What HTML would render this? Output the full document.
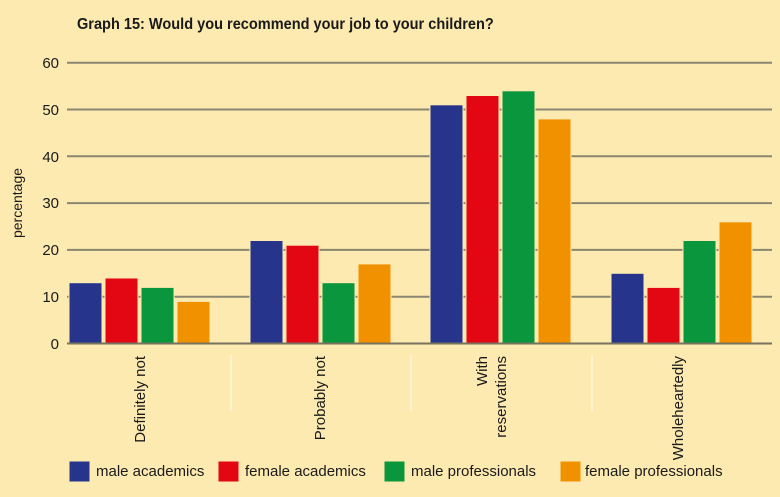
<!DOCTYPE html><html><head><style>body{margin:0;background:#fdeab0}svg{display:block}text{font-family:"Liberation Sans",sans-serif;fill:#1a1a1a}</style></head><body>
<svg width="780" height="497" xmlns="http://www.w3.org/2000/svg">
<rect width="780" height="497" fill="#fdeab0"/>
<text x="77" y="29" font-size="16" font-weight="bold" transform="translate(77,0) scale(0.91,1) translate(-77,0)">Graph 15: Would you recommend your job to your children?</text>
<g stroke="#8a8670" stroke-width="2">
<line x1="67" x2="772" y1="62.7" y2="62.7"/><line x1="67" x2="772" y1="109.5" y2="109.5"/><line x1="67" x2="772" y1="156.3" y2="156.3"/><line x1="67" x2="772" y1="203.1" y2="203.1"/><line x1="67" x2="772" y1="249.9" y2="249.9"/><line x1="67" x2="772" y1="296.7" y2="296.7"/>
</g>
<g font-size="15" text-anchor="end"><text x="59" y="68">60</text><text x="59" y="115">50</text><text x="59" y="162">40</text><text x="59" y="208">30</text><text x="59" y="255">20</text><text x="59" y="302">10</text><text x="59" y="349">0</text></g>
<text font-size="14" transform="translate(22,203) rotate(-90)" text-anchor="middle">percentage</text>
<g stroke="#fdeab0" stroke-width="1">
<rect x="69" y="282.7" width="33" height="60.8" fill="#27348b"/><rect x="105" y="278" width="33" height="65.5" fill="#e30613"/><rect x="141" y="287.4" width="33" height="56.1" fill="#09963d"/><rect x="177" y="301.4" width="33" height="42.1" fill="#f29100"/>
<rect x="250" y="240.5" width="33" height="103" fill="#27348b"/><rect x="286" y="245.2" width="33" height="98.3" fill="#e30613"/><rect x="322" y="282.7" width="33" height="60.8" fill="#09963d"/><rect x="358" y="263.9" width="33" height="79.6" fill="#f29100"/>
<rect x="430" y="104.8" width="33" height="238.7" fill="#27348b"/><rect x="466" y="95.5" width="33" height="248" fill="#e30613"/><rect x="502" y="90.8" width="33" height="252.7" fill="#09963d"/><rect x="538" y="118.9" width="33" height="224.6" fill="#f29100"/>
<rect x="611" y="273.3" width="33" height="70.2" fill="#27348b"/><rect x="647" y="287.4" width="33" height="56.1" fill="#e30613"/><rect x="683" y="240.5" width="33" height="103" fill="#09963d"/><rect x="719" y="221.8" width="33" height="121.7" fill="#f29100"/>
</g>
<line x1="67" x2="772" y1="343.5" y2="343.5" stroke="#77735f" stroke-width="2"/>
<g stroke="#fff6d8" stroke-width="1.5"><line x1="231" x2="231" y1="355" y2="411"/><line x1="411" x2="411" y1="355" y2="411"/><line x1="592" x2="592" y1="355" y2="411"/></g>
<g font-size="15" text-anchor="end">
<text transform="translate(145,356) rotate(-90)">Definitely not</text>
<text transform="translate(325,356) rotate(-90)">Probably not</text>
<text transform="translate(487,356) rotate(-90)">With</text>
<text transform="translate(506,356) rotate(-90)">reservations</text>
<text transform="translate(683,356) rotate(-90)">Wholeheartedly</text>
</g>
<g font-size="15" stroke="#fdeab0">
<rect x="69" y="461" width="21" height="21" fill="#27348b"/><text x="96" y="476" stroke="none">male academics</text>
<rect x="218" y="461" width="21" height="21" fill="#e30613"/><text x="245" y="476" stroke="none">female academics</text>
<rect x="384" y="461" width="21" height="21" fill="#09963d"/><text x="411" y="476" stroke="none">male professionals</text>
<rect x="560" y="461" width="21" height="21" fill="#f29100"/><text x="585" y="476" stroke="none">female professionals</text>
</g>
</svg></body></html>
